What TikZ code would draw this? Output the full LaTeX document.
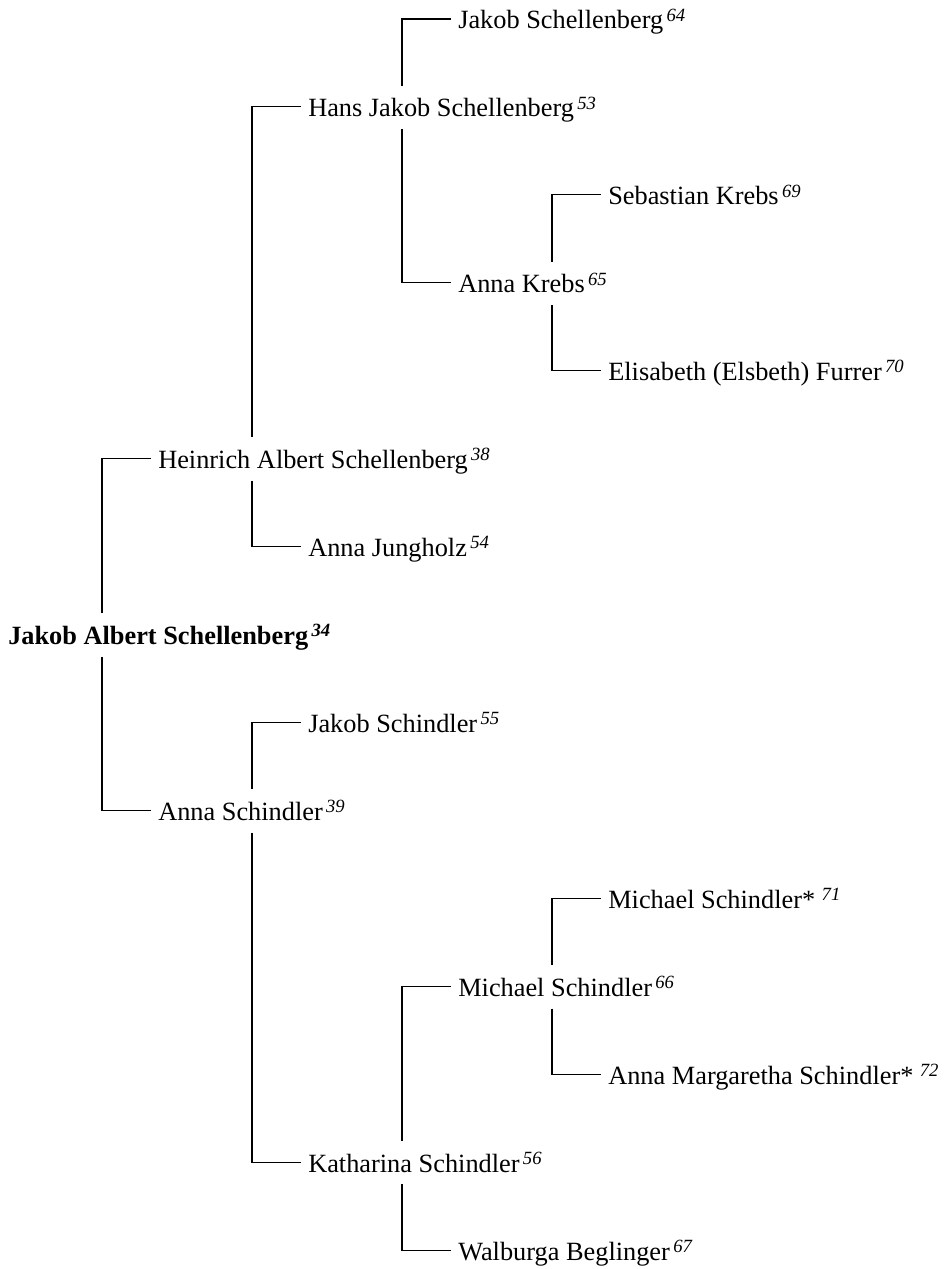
\documentclass[tikz,border=0pt]{standalone}
\usepackage{fontspec}
\setmainfont{Liberation Serif}
\newcommand{\nm}[2]{#1\kern2.5pt\raisebox{5.8pt}{\fontsize{14pt}{14pt}\selectfont\itshape #2}}
\begin{document}
\begin{tikzpicture}[x=0.75pt,y=-0.75pt,
  person/.style={anchor=base west,inner xsep=5.25pt,inner ysep=0pt,
    text height=23.25pt,text depth=9pt,font=\fontsize{19.75pt}{24pt}\selectfont},
  link/.style={line width=0.8pt}]
\useasboundingbox (0,0) rectangle (944,1269);
% rows: line y = 19 + 87.93 i ; baseline = line + 10 ; text x = 8 + 150 k
% nodes (position = text x - 7, baseline)
\node[person] (r0)  at (451,{19+87.93*0+10})  {\nm{Jakob Schellenberg}{64}};
\node[person] (r1)  at (301,{19+87.93*1+10})  {\nm{Hans Jakob Schellenberg}{53}};
\node[person] (r2)  at (601,{19+87.93*2+10})  {\nm{Sebastian Krebs}{69}};
\node[person] (r3)  at (451,{19+87.93*3+10})  {\nm{Anna Krebs}{65}};
\node[person] (r4)  at (601,{19+87.93*4+10})  {\nm{Elisabeth (Elsbeth) Furrer}{70}};
\node[person] (r5)  at (151,{19+87.93*5+10})  {\nm{Heinrich Albert Schellenberg}{38}};
\node[person] (r6)  at (301,{19+87.93*6+10})  {\nm{Anna Jungholz}{54}};
\node[person] (r7)  at (1,{19+87.93*7+10})    {\bfseries\nm{Jakob Albert Schellenberg}{34}};
\node[person] (r8)  at (301,{19+87.93*8+10})  {\nm{Jakob Schindler}{55}};
\node[person] (r9)  at (151,{19+87.93*9+10})  {\nm{Anna Schindler}{39}};
\node[person] (r10) at (601,{19+87.93*10+10}) {\nm{Michael Schindler*}{\,71}};
\node[person] (r11) at (451,{19+87.93*11+10}) {\nm{Michael Schindler}{66}};
\node[person] (r12) at (601,{19+87.93*12+10}) {\nm{Anna Margaretha Schindler*}{\,72}};
\node[person] (r13) at (301,{19+87.93*13+10}) {\nm{Katharina Schindler}{56}};
\node[person] (r14) at (451,{19+87.93*14+10}) {\nm{Walburga Beglinger}{67}};
% corners (vertical x = 102 + 150 k)
\coordinate (c0)  at (402,{19+87.93*0});
\coordinate (c1)  at (252,{19+87.93*1});
\coordinate (c2)  at (552,{19+87.93*2});
\coordinate (c3)  at (402,{19+87.93*3});
\coordinate (c4)  at (552,{19+87.93*4});
\coordinate (c5)  at (102,{19+87.93*5});
\coordinate (c6)  at (252,{19+87.93*6});
\coordinate (c8)  at (252,{19+87.93*8});
\coordinate (c9)  at (102,{19+87.93*9});
\coordinate (c10) at (552,{19+87.93*10});
\coordinate (c11) at (402,{19+87.93*11});
\coordinate (c12) at (552,{19+87.93*12});
\coordinate (c13) at (252,{19+87.93*13});
\coordinate (c14) at (402,{19+87.93*14});
% connectors
\draw[link] (r7.north -| c5) -- (c5) -- (c5 -| r5.west);
\draw[link] (r7.south -| c9) -- (c9) -- (c9 -| r9.west);
\draw[link] (r5.north -| c1) -- (c1) -- (c1 -| r1.west);
\draw[link] (r5.south -| c6) -- (c6) -- (c6 -| r6.west);
\draw[link] (r1.north -| c0) -- (c0) -- (c0 -| r0.west);
\draw[link] (r1.south -| c3) -- (c3) -- (c3 -| r3.west);
\draw[link] (r3.north -| c2) -- (c2) -- (c2 -| r2.west);
\draw[link] (r3.south -| c4) -- (c4) -- (c4 -| r4.west);
\draw[link] (r9.north -| c8) -- (c8) -- (c8 -| r8.west);
\draw[link] (r9.south -| c13) -- (c13) -- (c13 -| r13.west);
\draw[link] (r13.north -| c11) -- (c11) -- (c11 -| r11.west);
\draw[link] (r13.south -| c14) -- (c14) -- (c14 -| r14.west);
\draw[link] (r11.north -| c10) -- (c10) -- (c10 -| r10.west);
\draw[link] (r11.south -| c12) -- (c12) -- (c12 -| r12.west);
\end{tikzpicture}
\end{document}
